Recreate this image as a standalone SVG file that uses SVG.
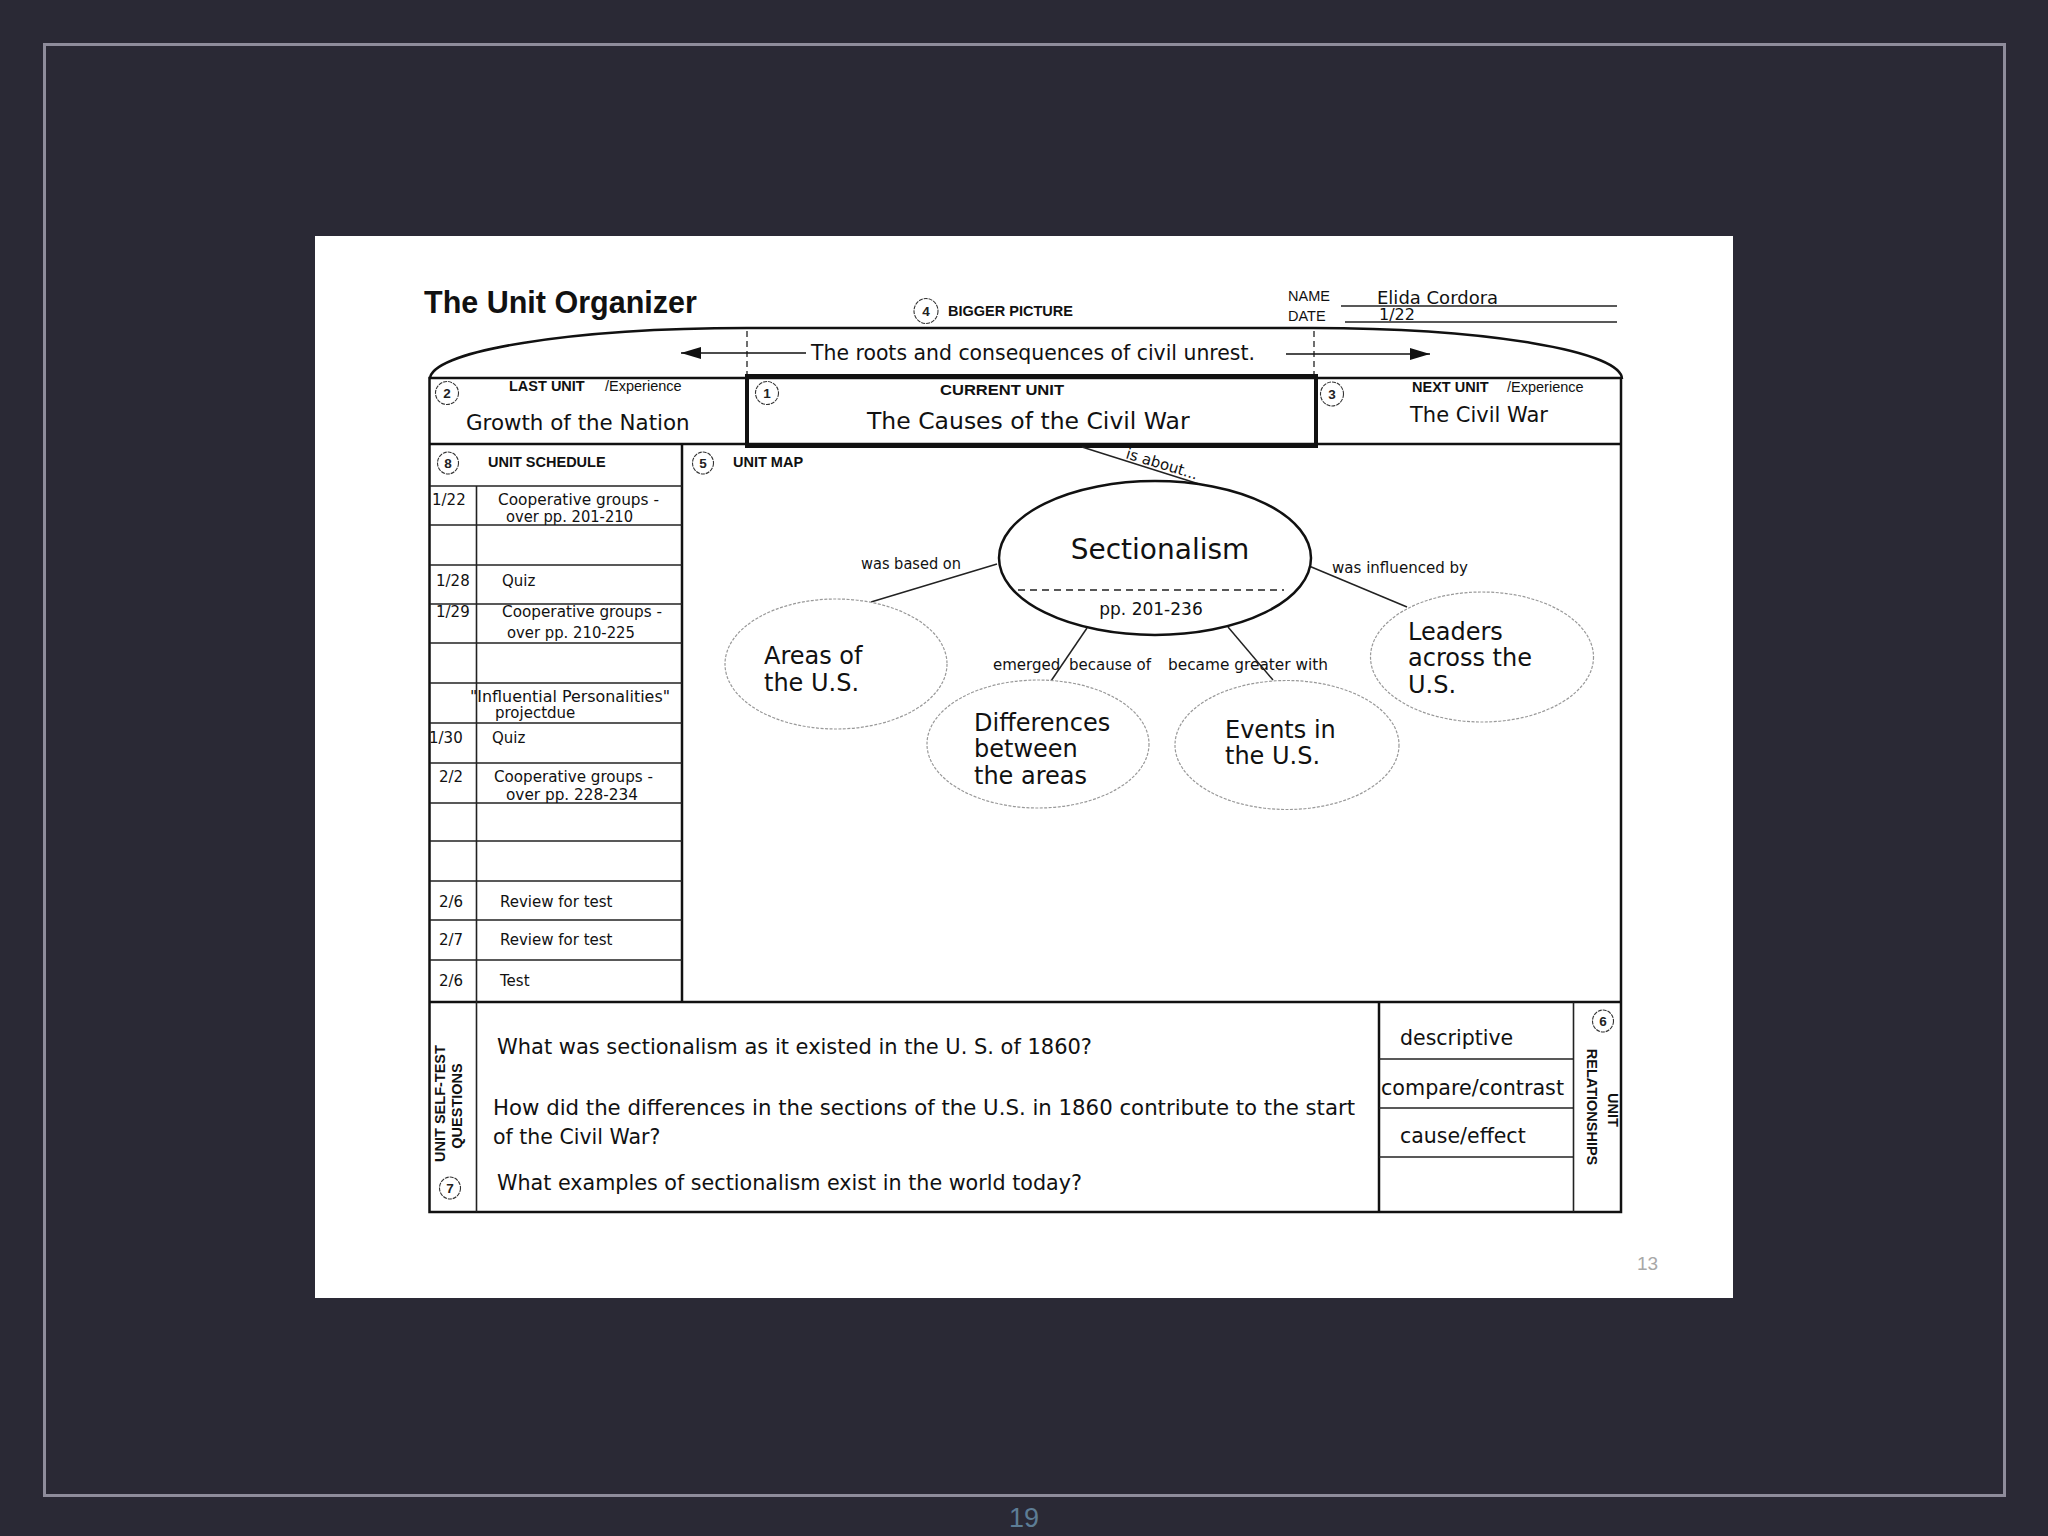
<svg xmlns="http://www.w3.org/2000/svg" width="2048" height="1536" viewBox="0 0 2048 1536">
<defs>
<style>
.hw{font-family:"DejaVu Sans",sans-serif;fill:#111}
.sch{font-family:"DejaVu Sans",sans-serif;fill:#111;font-size:15px}
.map{font-family:"DejaVu Sans",sans-serif;fill:#111;font-size:15px}
.big{font-family:"DejaVu Sans",sans-serif;fill:#111;font-size:24px}
.q{font-family:"DejaVu Sans",sans-serif;fill:#111;font-size:20.5px}
.lb{font-family:"Liberation Sans",Arial,sans-serif;font-weight:bold;fill:#111;font-size:14.5px}
.rg{font-family:"Liberation Sans",Arial,sans-serif;fill:#111;font-size:14.5px}
.num{font-family:"Liberation Sans",Arial,sans-serif;font-weight:bold;fill:#222;font-size:13.5px;text-anchor:middle}
.nc{fill:#fff;stroke:#333;stroke-width:1.1;stroke-dasharray:4 1}
.bd{fill:none;stroke:#111;stroke-width:2.5}
.gr{stroke:#222;stroke-width:1.6;fill:none}
.on{fill:#fff;stroke:#999;stroke-width:1.2;stroke-dasharray:3 1.5}
.cn{stroke:#222;stroke-width:1.5;fill:none}
.dsh{stroke:#222;stroke-width:1.3;stroke-dasharray:6 4;fill:none}
</style>
<marker id="ah" markerUnits="userSpaceOnUse" markerWidth="20" markerHeight="12" refX="20" refY="6" orient="auto">
<path d="M0,0 L20,6 L0,12 z" fill="#111"/>
</marker>
</defs>

<rect x="0" y="0" width="2048" height="1536" fill="#2a2935"/>
<rect x="44.5" y="44.5" width="1960" height="1451" fill="none" stroke="#8e8c9b" stroke-width="3"/>
<text x="1024" y="1527" font-family="Liberation Sans, Arial, sans-serif" font-size="27" fill="#5d7d95" text-anchor="middle">19</text>

<rect x="315" y="236" width="1418" height="1062" fill="#fff"/>
<text x="1637" y="1270" font-family="Liberation Sans, Arial, sans-serif" font-size="19" fill="#a8a8a8">13</text>

<!-- header -->
<g id="header">
<text x="424" y="313" font-family="Liberation Sans, Arial, sans-serif" font-weight="bold" font-size="30.5" fill="#111">The Unit Organizer</text>
<text class="rg" x="1288" y="301" font-size="15">NAME</text>
<text class="rg" x="1288" y="321" font-size="15">DATE</text>
<line class="gr" x1="1341" y1="306" x2="1617" y2="306"/>
<line class="gr" x1="1345" y1="322" x2="1617" y2="322"/>
<text class="hw" x="1377" y="304" font-size="18">Elida Cordora</text>
<text class="hw" x="1379" y="320" font-size="16">1/22</text>
</g>

<!-- bigger picture -->
<g id="bigger-picture">
<ellipse class="nc" cx="926" cy="311" rx="12" ry="12.5"/>
<text class="num" x="926" y="316">4</text>
<text class="lb" x="948" y="316" font-size="15.5">BIGGER PICTURE</text>
<path class="bd" d="M430,379 A317,51 0 0 1 747,328 L1313,328 A309,51 0 0 1 1622,379"/>
<line class="dsh" x1="747" y1="331" x2="747" y2="376"/>
<line class="dsh" x1="1314" y1="331" x2="1314" y2="376"/>
<text class="hw" x="811" y="360" font-size="20.5" textLength="444" lengthAdjust="spacingAndGlyphs">The roots and consequences of civil unrest.</text>
</g>

<!-- frame of organizer -->
<g id="grid">
<rect class="bd" x="429.5" y="378" width="1191.5" height="834"/>
<line class="bd" x1="430" y1="444" x2="1621" y2="444"/>
<line class="bd" x1="430" y1="1002" x2="1621" y2="1002"/>
<line class="bd" x1="682" y1="444" x2="682" y2="1002"/>
<line class="gr" x1="476.5" y1="486" x2="476.5" y2="1212"/>
<line class="bd" x1="1379" y1="1002" x2="1379" y2="1212"/>
<line class="gr" x1="1573.5" y1="1002" x2="1573.5" y2="1212"/>
<g class="gr">
<line x1="430" y1="486" x2="682" y2="486"/>
<line x1="430" y1="525" x2="682" y2="525"/>
<line x1="430" y1="565" x2="682" y2="565"/>
<line x1="430" y1="604" x2="682" y2="604"/>
<line x1="430" y1="643" x2="682" y2="643"/>
<line x1="430" y1="683" x2="682" y2="683"/>
<line x1="430" y1="723" x2="682" y2="723"/>
<line x1="430" y1="763" x2="682" y2="763"/>
<line x1="430" y1="803" x2="682" y2="803"/>
<line x1="430" y1="841" x2="682" y2="841"/>
<line x1="430" y1="881" x2="682" y2="881"/>
<line x1="430" y1="920" x2="682" y2="920"/>
<line x1="430" y1="960" x2="682" y2="960"/>
<line x1="1379" y1="1059" x2="1573.5" y2="1059"/>
<line x1="1379" y1="1108" x2="1573.5" y2="1108"/>
<line x1="1379" y1="1157" x2="1573.5" y2="1157"/>
</g>
</g>

<!-- last unit -->
<g id="last-unit">
<ellipse class="nc" cx="447" cy="393" rx="11.5" ry="11.5"/>
<text class="num" x="447" y="398">2</text>
<text class="lb" x="509" y="391">LAST UNIT</text>
<text class="rg" x="605" y="391">/Experience</text>
<text class="hw" x="466" y="430" font-size="21.4">Growth of the Nation</text>
</g>

<!-- current unit -->
<g id="current-unit">
<rect x="747" y="376" width="569" height="70" fill="none" stroke="#111" stroke-width="4"/>
<ellipse class="nc" cx="767" cy="393" rx="11.5" ry="11.5"/>
<text class="num" x="767" y="398">1</text>
<text class="lb" x="940" y="395" textLength="124" lengthAdjust="spacingAndGlyphs">CURRENT UNIT</text>
<text class="hw" x="867" y="429" font-size="23.5">The Causes of the Civil War</text>
</g>

<!-- next unit -->
<g id="next-unit">
<ellipse class="nc" cx="1332" cy="394" rx="11.5" ry="12"/>
<text class="num" x="1332" y="399">3</text>
<text class="lb" x="1412" y="392">NEXT UNIT</text>
<text class="rg" x="1507" y="392">/Experience</text>
<text class="hw" x="1410" y="422" font-size="21">The Civil War</text>
</g>

<!-- unit schedule -->
<g id="unit-schedule">
<ellipse class="nc" cx="448" cy="463" rx="10.5" ry="11"/>
<text class="num" x="448" y="468">8</text>
<text class="lb" x="488" y="467">UNIT SCHEDULE</text>
<text class="sch" x="432" y="505">1/22</text>
<text class="sch" x="498" y="505" textLength="161" lengthAdjust="spacingAndGlyphs">Cooperative groups -</text>
<text class="sch" x="506" y="522" textLength="127" lengthAdjust="spacingAndGlyphs">over pp. 201-210</text>
<text class="sch" x="436" y="586">1/28</text>
<text class="sch" x="502" y="586">Quiz</text>
<text class="sch" x="436" y="617">1/29</text>
<text class="sch" x="502" y="617" textLength="160" lengthAdjust="spacingAndGlyphs">Cooperative groups -</text>
<text class="sch" x="507" y="638" textLength="128" lengthAdjust="spacingAndGlyphs">over pp. 210-225</text>
<text class="sch" x="470" y="702" textLength="200" lengthAdjust="spacingAndGlyphs">"Influential Personalities"</text>
<text class="sch" x="495" y="718">projectdue</text>
<text class="sch" x="429" y="743">1/30</text>
<text class="sch" x="492" y="743">Quiz</text>
<text class="sch" x="439" y="782">2/2</text>
<text class="sch" x="494" y="782" textLength="159" lengthAdjust="spacingAndGlyphs">Cooperative groups -</text>
<text class="sch" x="506" y="800" textLength="132" lengthAdjust="spacingAndGlyphs">over pp. 228-234</text>
<text class="sch" x="439" y="907">2/6</text>
<text class="sch" x="500" y="907">Review for test</text>
<text class="sch" x="439" y="945">2/7</text>
<text class="sch" x="500" y="945">Review for test</text>
<text class="sch" x="439" y="986">2/6</text>
<text class="sch" x="500" y="986">Test</text>
</g>

<!-- unit map label -->
<g id="unit-map">
<ellipse class="nc" cx="703" cy="463" rx="10.5" ry="11"/>
<text class="num" x="703" y="468">5</text>
<text class="lb" x="733" y="467" font-size="15">UNIT MAP</text>
</g>

<!-- connectors -->
<g id="connectors">
<line x1="806" y1="353" x2="681" y2="353" stroke="#111" stroke-width="1.6" marker-end="url(#ah)"/>
<line x1="1286" y1="354" x2="1430" y2="354" stroke="#111" stroke-width="1.6" marker-end="url(#ah)"/>
<line class="cn" x1="1082" y1="447" x2="1199" y2="484"/>
<text class="map" font-size="14" transform="translate(1125,458) rotate(17)">is about...</text>
<line class="cn" x1="997" y1="564" x2="871" y2="602"/>
<text class="map" x="861" y="569" textLength="100" lengthAdjust="spacingAndGlyphs">was based on</text>
<line class="cn" x1="1087" y1="628" x2="1051" y2="681"/>
<text class="map" y="670"><tspan x="993">emerged</tspan><tspan x="1069">because of</tspan></text>
<line class="cn" x1="1228" y1="627" x2="1273" y2="680"/>
<text class="map" x="1168" y="670" textLength="160" lengthAdjust="spacingAndGlyphs">became greater with</text>
<line class="cn" x1="1309" y1="566" x2="1407" y2="607"/>
<text class="map" x="1332" y="573" textLength="136" lengthAdjust="spacingAndGlyphs">was influenced by</text>
</g>

<!-- map nodes -->
<g id="node-sectionalism">
<ellipse cx="1155" cy="558" rx="156" ry="77" fill="#fff" stroke="#111" stroke-width="2.5"/>
<line x1="1018" y1="590" x2="1284" y2="590" stroke="#222" stroke-width="1.3" stroke-dasharray="7 5"/>
<text class="hw" x="1160" y="559" font-size="28" text-anchor="middle">Sectionalism</text>
<text class="hw" x="1151" y="615" font-size="17" text-anchor="middle">pp. 201-236</text>
</g>
<g id="node-areas">
<ellipse class="on" cx="836" cy="664" rx="111" ry="65"/>
<text class="big" x="764" y="664">Areas of</text>
<text class="big" x="764" y="691">the U.S.</text>
</g>
<g id="node-differences">
<ellipse class="on" cx="1038" cy="744" rx="111" ry="64"/>
<text class="big" x="974" y="731">Differences</text>
<text class="big" x="974" y="757">between</text>
<text class="big" x="974" y="784">the areas</text>
</g>
<g id="node-events">
<ellipse class="on" cx="1287" cy="745" rx="112" ry="64.5"/>
<text class="big" x="1225" y="738">Events in</text>
<text class="big" x="1225" y="764">the U.S.</text>
</g>
<g id="node-leaders">
<ellipse class="on" cx="1482" cy="657" rx="111.5" ry="65"/>
<text class="big" x="1408" y="640">Leaders</text>
<text class="big" x="1408" y="666">across the</text>
<text class="big" x="1408" y="693">U.S.</text>
</g>

<!-- self-test questions -->
<g id="self-test-questions">
<text class="lb" font-size="15.5" text-anchor="middle" transform="translate(445,1103.5) rotate(-90)">UNIT SELF-TEST</text>
<text class="lb" font-size="15" text-anchor="middle" transform="translate(462,1106) rotate(-90)">QUESTIONS</text>
<ellipse class="nc" cx="450" cy="1188" rx="10.5" ry="11"/>
<text class="num" x="450" y="1193">7</text>
<text class="q" x="497" y="1054" textLength="595" lengthAdjust="spacingAndGlyphs">What was sectionalism as it existed in the U. S.  of 1860?</text>
<text class="q" x="493" y="1115" textLength="862" lengthAdjust="spacingAndGlyphs">How did the differences in the sections of the U.S. in 1860 contribute to the start</text>
<text class="q" x="493" y="1144">of the Civil War?</text>
<text class="q" x="497" y="1190" textLength="585" lengthAdjust="spacingAndGlyphs">What examples of sectionalism exist in the world today?</text>
</g>

<!-- unit relationships -->
<g id="unit-relationships">
<text class="q" x="1400" y="1045">descriptive</text>
<text class="q" x="1381" y="1095" textLength="183" lengthAdjust="spacingAndGlyphs">compare/contrast</text>
<text class="q" x="1400" y="1143">cause/effect</text>
<ellipse class="nc" cx="1603" cy="1021" rx="10.5" ry="11"/>
<text class="num" x="1603" y="1026">6</text>
<text class="lb" font-size="15" text-anchor="middle" transform="translate(1608,1110) rotate(90)">UNIT</text>
<text class="lb" font-size="15" text-anchor="middle" transform="translate(1587,1107) rotate(90)">RELATIONSHIPS</text>
</g>
</svg>
